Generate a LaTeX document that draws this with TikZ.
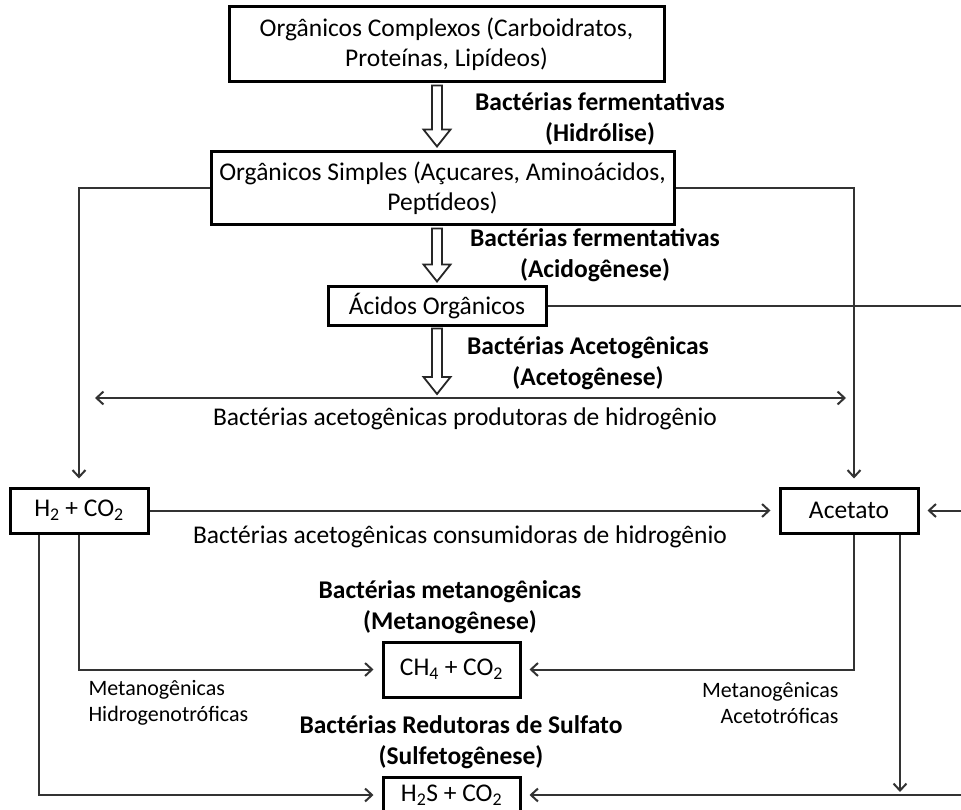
\documentclass[tikz,border=0pt]{standalone}
\usepackage{fontspec}
\setmainfont{Carlito}
\usetikzlibrary{arrows.meta, calc, positioning}

\tikzset{
  >={Straight Barb[length=7pt,width=13pt]},
  caixa/.style={draw, line width=3pt, align=center, inner sep=2pt, font=\fontsize{25.5}{30}\selectfont},
  conector/.style={draw=black!80, line width=2pt, ->, shorten >=8pt},
  bloco/.style={draw=black!85, line width=1.8pt, line join=miter},
  rotulo/.style={align=center, font=\bfseries\fontsize{25.5}{31}\selectfont},
  texto/.style={align=center, font=\fontsize{25.5}{30}\selectfont},
  nota/.style={font=\fontsize{22}{26}\selectfont},
}

% seta larga (vazada) entre duas caixas
\newcommand{\setabloco}[2]{%
  \draw[bloco] ($(#1 -| eixo)+(-5,2)$) -- ($(#2 -| eixo)+(-5,-21)$) -- ++(-8.5,0)
    -- ($(#2 -| eixo)+(0,-4)$) -- ++(13.5,-17) -- ++(-8.5,0) -- ($(#1 -| eixo)+(5,2)$) -- cycle;}

\begin{document}
\begin{tikzpicture}[x=1pt, y=-1pt]
  \useasboundingbox (0,0) rectangle (961,810);
  \coordinate (eixo) at (437,0);
  \coordinate (borda) at (975,0);

  % caixas
  \node[caixa, minimum width=435pt, minimum height=75pt] (complexos) at (446.5,44.5)
    {Orgânicos Complexos (Carboidratos,\\Proteínas, Lipídeos)};
  \node[caixa, minimum width=463pt, minimum height=73pt] (simples) at (442.5,188.5)
    {Orgânicos Simples (Açucares, Aminoácidos,\\Peptídeos)};
  \node[caixa, minimum width=218pt, minimum height=38pt] (acidos) at (437,306) {Ácidos Orgânicos};
  \node[caixa, minimum width=138pt, minimum height=45pt] (h2) at (79,510.5) {H\textsubscript{2} + CO\textsubscript{2}};
  \node[caixa, minimum width=138pt, minimum height=45pt] (acetato) at (849,510.5) {Acetato};
  \node[caixa, minimum width=137pt, minimum height=55pt] (ch4) at (451.5,669.5) {CH\textsubscript{4} + CO\textsubscript{2}};
  \node[caixa, minimum width=137pt, minimum height=36pt] (h2s) at (451.5,795) {H\textsubscript{2}S + CO\textsubscript{2}};

  % rotulos
  \node[rotulo] (hidrolise) at (600,119) {Bactérias fermentativas\\(Hidrólise)};
  \node[rotulo] (acidogenese) at (595,255) {Bactérias fermentativas\\(Acidogênese)};
  \node[rotulo] (acetogenese) at (588,363) {Bactérias Acetogênicas\\(Acetogênese)};
  \node[rotulo] (metanogenese) at (450,607) {Bactérias metanogênicas\\(Metanogênese)};
  \node[rotulo] (sulfetogenese) at (461,742) {Bactérias Redutoras de Sulfato\\(Sulfetogênese)};
  \node[texto] (produtoras) at (465,419) {Bactérias acetogênicas produtoras de hidrogênio};
  \node[texto] (consumidoras) at (460,537) {Bactérias acetogênicas consumidoras de hidrogênio};
  \node[nota, align=left, anchor=west] (hidrogenotroficas) at (85,703) {Metanogênicas\\Hidrogenotróficas};
  \node[nota, align=right, anchor=east] (acetotroficas) at (842,703) {Metanogênicas\\Acetotróficas};

  % setas largas
  \coordinate (prodE) at (95,398);
  \coordinate (prodD) at (846,398);
  \setabloco{complexos.south}{simples.north}
  \setabloco{simples.south}{acidos.north}
  \setabloco{acidos.south}{prodE}
  \draw[conector, <->, shorten >=0pt] (prodE) -- (prodD);

  % conectores
  \draw[conector] (simples.west) -| (h2.north);
  \draw[conector] (simples.east) -| ([xshift=5pt]acetato.north);
  \draw[conector] (h2.east) -- (acetato.west);
  \draw[conector] (h2.south) |- (ch4.west);
  \draw[conector] ([xshift=-40pt]h2.south) |- (h2s.west);
  \draw[conector] ([xshift=5pt]acetato.south) |- (ch4.east);
  \coordinate (desvio) at ([xshift=51pt]acetato.south);
  \draw[conector, shorten >=3pt] (desvio) -- (desvio |- h2s.east);
  \draw[conector] (acidos.east) -| (borda |- h2s.east) -- (h2s.east);
  \draw[conector] (borda |- acetato.east) -- (acetato.east);
\end{tikzpicture}
\end{document}
